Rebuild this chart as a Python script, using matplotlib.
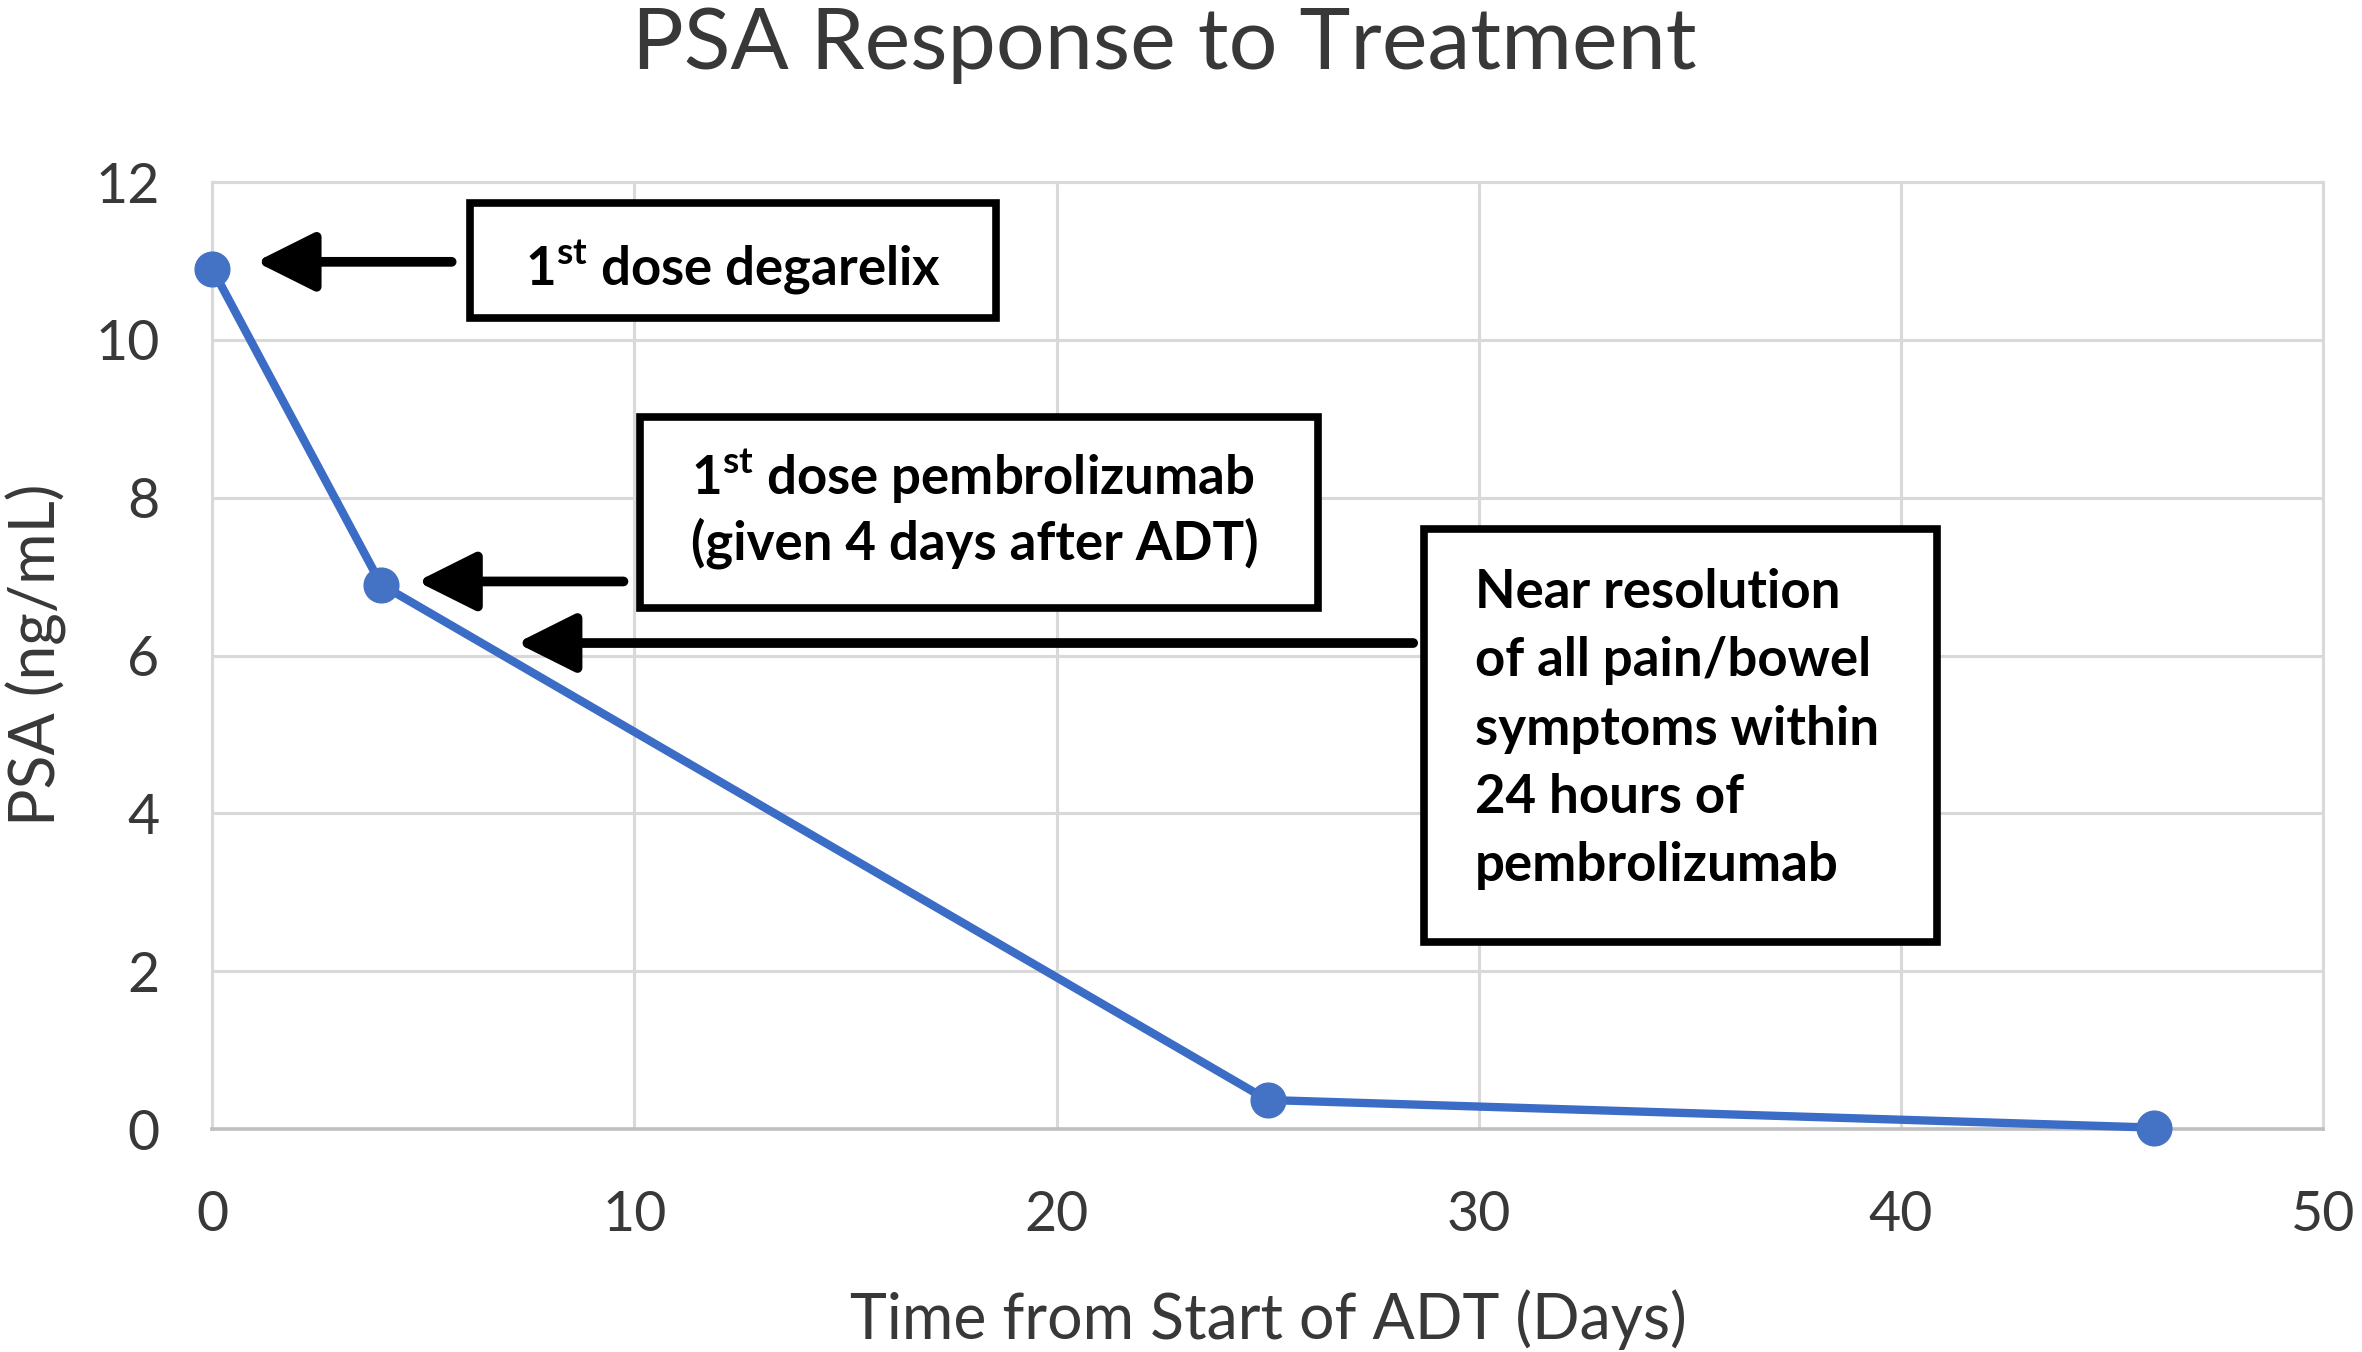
import matplotlib
matplotlib.use("Agg")
import matplotlib.pyplot as plt
from matplotlib.patches import Rectangle

# ---- data ----
days = [0, 4, 25, 46]
psa = [10.9, 6.9, 0.37, 0.02]
x_ticks = [0, 10, 20, 30, 40, 50]
y_ticks = [0, 2, 4, 6, 8, 10, 12]
title = "PSA Response to Treatment"
xlabel = "Time from Start of ADT (Days)"
ylabel = "PSA (ng/mL)"
note1 = r"1$^{\mathrm{st}}$ dose degarelix"
note2 = [r"1$^{\mathrm{st}}$ dose pembrolizumab", "(given 4 days after ADT)"]
note3 = ["Near resolution", "of all pain/bowel", "symptoms within",
         "24 hours of", "pembrolizumab"]

plt.rcParams['font.family'] = ['Lato', 'DejaVu Sans']
plt.rcParams['mathtext.fontset'] = 'custom'
plt.rcParams['mathtext.rm'] = 'Lato:bold'
plt.rcParams['mathtext.bf'] = 'Lato:bold'

W, H = 2362, 1352
fig = plt.figure(figsize=(W / 100, H / 100), dpi=100)
ax = fig.add_axes([0.0899, 0.1648, 0.9834 - 0.0899, 0.8653 - 0.1648])

txt_c = "#383838"
grid_c = "#d9d9d9"
ax.set_xlim(0, 50)
ax.set_ylim(0, 12)
ax.set_xticks(x_ticks)
ax.set_yticks(y_ticks)
ax.grid(True, color=grid_c, linewidth=2.2)
for s in ax.spines.values():
    s.set_color(grid_c)
    s.set_linewidth(2.2)
ax.spines['bottom'].set_color("#bfbfbf")
ax.spines['bottom'].set_linewidth(2.6)
ax.tick_params(length=0, labelsize=40, colors=txt_c)
ax.tick_params(axis='x', pad=44)
ax.tick_params(axis='y', pad=38)
ax.set_axisbelow(True)

ax.plot(days, psa, color="#3b6cc6", linewidth=6, marker='o',
        markersize=25, markerfacecolor="#4472c4", markeredgecolor="#4472c4",
        zorder=3, clip_on=False)

fig.text(0.537, 0.0096, xlabel, ha='center', va='baseline', fontsize=45, color=txt_c)
fig.text(0.0155, 0.516, ylabel, ha='center', va='center', rotation=90,
         fontsize=45, color=txt_c)
fig.text(0.493, 0.9487, title, ha='center', va='baseline', fontsize=62, color=txt_c)

# ---- boxes ----
box_kw = dict(facecolor='white', edgecolor='black', linewidth=5.5, zorder=4)
ax.add_patch(Rectangle((6.10, 10.28), 18.56 - 6.10, 11.73 - 10.28, **box_kw))
ax.add_patch(Rectangle((10.14, 6.60), 26.2 - 10.14, 9.02 - 6.60, **box_kw))
ax.add_patch(Rectangle((28.7, 2.37), 40.86 - 28.7, 7.61 - 2.37, **box_kw))

tkw = dict(fontsize=38, fontweight='bold', color='black', zorder=5)
ax.text(12.33, 10.92, note1, ha='center', va='center', **tkw)
ax.text(11.35, 8.27, note2[0], ha='left', va='center', **tkw)
ax.text(11.35, 7.42, note2[1], ha='left', va='center', **tkw)
y0 = 6.80
for i, line in enumerate(note3):
    ax.text(29.92, y0 - i * 0.865, line, ha='left', va='center', **tkw)

# ---- arrows ----
akw = dict(arrowstyle='-|>,head_length=1.2,head_width=0.6', color='black',
           lw=7, shrinkA=0, shrinkB=0, mutation_scale=30)
ax.annotate('', xy=(1.03, 10.99), xytext=(5.67, 10.99), arrowprops=akw, zorder=5)
ax.annotate('', xy=(4.85, 6.94), xytext=(9.74, 6.94), arrowprops=akw, zorder=5)
ax.annotate('', xy=(7.21, 6.16), xytext=(28.45, 6.16), arrowprops=akw, zorder=5)

fig.savefig("out.png", dpi=100, facecolor='white')
